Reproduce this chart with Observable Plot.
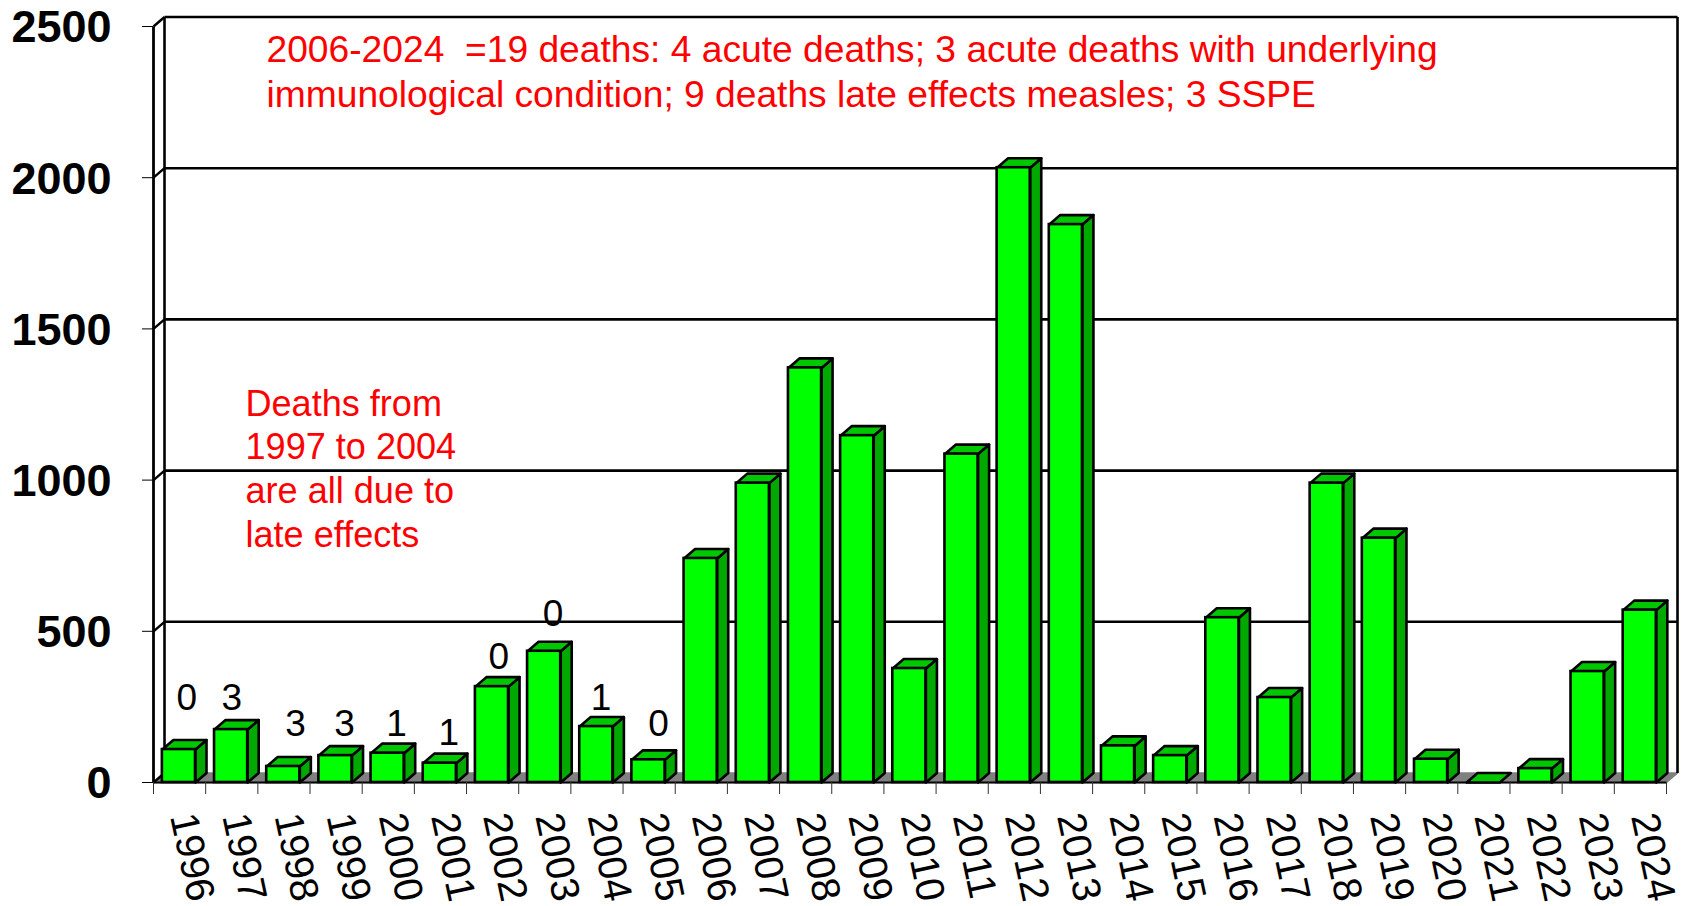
<!DOCTYPE html>
<html><head><meta charset="utf-8">
<script src="https://cdn.jsdelivr.net/npm/d3@7"></script>
<script src="https://cdn.jsdelivr.net/npm/@observablehq/plot@0.6"></script>
<style>html,body{margin:0;padding:0;background:#fff}svg{display:block;overflow:visible}</style>
</head><body><div id="chart"></div>
<script>
const years = [1996,1997,1998,1999,2000,2001,2002,2003,2004,2005,2006,2007,2008,2009,2010,2011,2012,2013,2014,2015,2016,2017,2018,2019,2020,2021,2022,2023,2024];
const cases = [109,175,53,89,97,64,317,434,185,75,741,990,1371,1147,377,1086,2033,1845,121,89,545,281,990,808,77,0,46,367,570];
const deathCounts = ["0","3","3","3","1","1","0","0","1","0"];
const deathLabelX = [1996.64,1997.5,1998.72,1999.66,2000.66,2001.66,2002.62,2003.66,2004.58,2005.68];
const deathLabelY = [278,278,192,192,192,164,413,556,278,192];
const yTicks = [0,500,1000,1500,2000,2500];
const note1 = "2006-2024  =19 deaths: 4 acute deaths; 3 acute deaths with underlying\nimmunological condition; 9 deaths late effects measles; 3 SSPE";
const note2 = "Deaths from\n1997 to 2004\nare all due to\nlate effects";

const font = '"Liberation Sans", Arial, sans-serif';
const depthX = 0.211, depthY = 31.4;      // 3-D offset in data units
const barL = 0.17, barR = 0.805;
const x0 = years[0], x1 = years[years.length-1] + 1;

const bars = years.map((year,i)=>({year,value:cases[i],l:year+barL,r:year+barR}));
const topFace = bars.flatMap(b=>[[b.l,b.value],[b.r,b.value],[b.r+depthX,b.value+depthY],[b.l+depthX,b.value+depthY],[b.l,b.value]].map(([x,y])=>({x,y,year:b.year})));
const sideFace = bars.filter(b=>b.value>0).flatMap(b=>[[b.r,0],[b.r+depthX,depthY],[b.r+depthX,b.value+depthY],[b.r,b.value],[b.r,0]].map(([x,y])=>({x,y,year:b.year})));
const floor = [[x0,0],[x1,0],[x1+depthX,depthY],[x0+depthX,depthY],[x0,0]].map(([x,y])=>({x,y}));

const plot = Plot.plot({
  width:1688, height:906,
  marginLeft:153, marginRight:22, marginTop:26, marginBottom:124,
  style:{fontFamily:font, background:"transparent", overflow:"visible"},
  x:{type:"linear", domain:[x0,x1], axis:null},
  y:{type:"linear", domain:[0,2500], axis:null},
  marks:[
    Plot.line(floor,{x:"x",y:"y",fill:"#808080",stroke:"#808080",strokeWidth:1.5}),
    Plot.link(yTicks.slice(1),{x1:x0+depthX,x2:x1+depthX,y1:d=>d+depthY,y2:d=>d+depthY,stroke:"#000",strokeWidth:2.6}),
    Plot.link(yTicks,{x1:x0,x2:x0+depthX,y1:d=>d,y2:d=>d+depthY,stroke:"#000",strokeWidth:2.4}),
    Plot.link([0],{x1:x0+depthX,x2:x0+depthX,y1:depthY,y2:2500+depthY,stroke:"#000",strokeWidth:2.6}),
    Plot.link([0],{x1:x0,x2:x0,y1:0,y2:2500,stroke:"#000",strokeWidth:2.8}),
    Plot.link([0],{x1:x1+depthX,x2:x1+depthX,y1:depthY,y2:2500+depthY,stroke:"#000",strokeWidth:2.6}),
    Plot.link([0],{x1:x0,x2:x1,y1:0,y2:0,stroke:"#000",strokeWidth:2}),
    Plot.axisY(yTicks,{anchor:"left",tickSize:11,tickFormat:()=>"",label:null,stroke:"#000"}),
    Plot.axisY(yTicks,{anchor:"left",tickSize:0,tickPadding:42,dy:1.5,fontSize:45,fontWeight:"bold",tickFormat:d=>String(d),label:null}),
    Plot.axisX(d3.range(x0,x1+1),{anchor:"bottom",tickSize:12,tickFormat:()=>"",label:null,stroke:"#333"}),
    Plot.line(sideFace,{x:"x",y:"y",z:"year",fill:"#00a800",stroke:"#000",strokeWidth:2.6,strokeLinejoin:"round"}),
    Plot.line(topFace,{x:"x",y:"y",z:"year",fill:"#00c800",stroke:"#000",strokeWidth:2.6,strokeLinejoin:"round"}),
    Plot.rect(bars.filter(b=>b.value>0),{x1:"l",x2:"r",y1:0,y2:"value",fill:"#00ff00",stroke:"#000",strokeWidth:2.6}),
    Plot.text(years,{x:d=>d+0.5,y:0,text:d=>String(d),rotate:78,textAnchor:"start",lineAnchor:"middle",dx:3,dy:31,fontSize:40,fill:"#000"}),
    Plot.text(deathCounts,{x:(d,i)=>deathLabelX[i],y:(d,i)=>deathLabelY[i],text:d=>d,fontSize:37,fill:"#000"}),
    Plot.text([note1],{frameAnchor:"top-left",dx:113,dy:3,text:d=>d,lineHeight:1.215,fontSize:37.2,fill:"#ff0000",textAnchor:"start"}),
    Plot.text([note2],{frameAnchor:"top-left",dx:92,dy:358,text:d=>d,lineHeight:1.213,fontSize:36.1,fill:"#ff0000",textAnchor:"start"})
  ]
});
document.getElementById("chart").appendChild(plot);
</script></body></html>
